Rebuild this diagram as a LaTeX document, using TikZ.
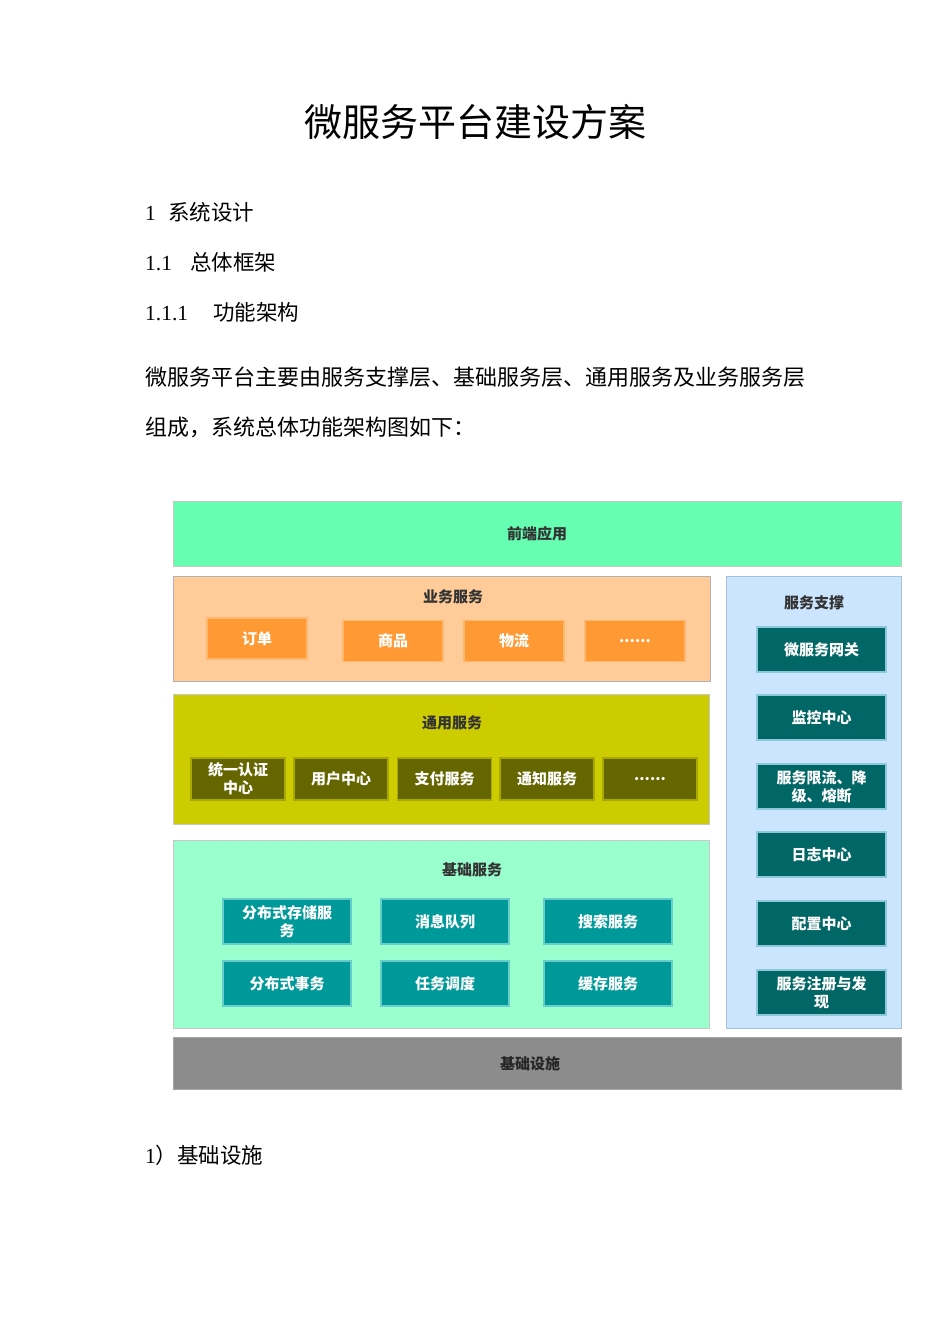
\documentclass[tikz,border=0pt]{standalone}
\usepackage{fontspec}
\setmainfont{Noto Sans CJK SC}
\newfontfamily\latinserif{Liberation Serif}
\definecolor{frontc}{HTML}{66FFB2}
\definecolor{bizc}{HTML}{FFCC99}
\definecolor{bizitem}{HTML}{FF9933}
\definecolor{bizedge}{HTML}{FFB870}
\definecolor{supc}{HTML}{CCE5FF}
\definecolor{supedge}{HTML}{A8C0D8}
\definecolor{supitem}{HTML}{006666}
\definecolor{supiedge}{HTML}{8CC8D8}
\definecolor{genc}{HTML}{CCCC00}
\definecolor{genitem}{HTML}{666600}
\definecolor{genedge}{HTML}{A8A800}
\definecolor{basec}{HTML}{99FFCC}
\definecolor{baseitem}{HTML}{009999}
\definecolor{baseedge}{HTML}{66CCCC}
\definecolor{infrac}{HTML}{8C8C8C}
\definecolor{titlec}{HTML}{333333}
\tikzset{
  layer/.style={draw=#1, line width=1pt, inner sep=0pt},
  item/.style={draw=#1, line width=1.2pt, inner sep=0pt, text=white, align=center,
    font=\bfseries\fontsize{15}{18}\selectfont},
  ltitle/.style={text=titlec, font=\bfseries\fontsize{15}{18}\selectfont, inner sep=0pt},
  doc/.style={anchor=west, inner sep=0pt, font=\fontsize{21.5}{26}\selectfont}
}
\newcommand{\numlbl}[2]{\makebox[#1][l]{\latinserif #2}}
\begin{document}
\begin{tikzpicture}[x=1pt, y=-1pt]
\useasboundingbox (0,0) rectangle (950,1344);
\fill[white] (0,0) rectangle (950,1344);
% document text
\node[inner sep=0pt, font=\fontsize{38}{44}\selectfont] (title) at (475,122) {微服务平台建设方案};
\node[doc] (h1) at (145,212) {\numlbl{23pt}{1}系统设计};
\node[doc] (h2) at (145,262) {\numlbl{45pt}{1.1}总体框架};
\node[doc] (h3) at (145,312) {\numlbl{68pt}{1.1.1}功能架构};
\node[doc, font=\fontsize{22}{26}\selectfont] (p1) at (145,377) {微服务平台主要由服务支撑层、基础服务层、通用服务及业务服务层};
\node[doc, font=\fontsize{22}{26}\selectfont] (p2) at (145,427) {组成，系统总体功能架构图如下：};
\node[doc] (h4) at (145,1155) {{\latinserif 1}）基础设施};
% layers
\node[layer=black!22, fill=frontc, minimum width=728, minimum height=65] (front) at (537,533.5) {};
\node[ltitle] (frontt) at (front.center) {前端应用};
\node[layer=black!30, fill=bizc, minimum width=537, minimum height=105] (biz) at (441.5,628.5) {};
\node[ltitle] (bizt) at (453,597) {业务服务};
\node[layer=supedge, fill=supc, minimum width=175, minimum height=452] (sup) at (813.5,802) {};
\node[ltitle] (supt) at (814,603) {服务支撑};
\node[layer=black!22, fill=genc, minimum width=536, minimum height=130] (gen) at (441,759) {};
\node[ltitle] (gent) at (452,723) {通用服务};
\node[layer=black!22, fill=basec, minimum width=536, minimum height=188] (base) at (441,934) {};
\node[ltitle] (baset) at (472,870) {基础服务};
\node[layer=black!35, fill=infrac, minimum width=728, minimum height=52] (infra) at (537,1063) {};
\node[ltitle, text=black!85] (infrat) at (530,1064) {基础设施};
% business items
\tikzset{bizbox/.style={item=bizedge, fill=bizitem, minimum width=100, minimum height=41}}
\node[bizbox] (order) at (257,638.5) {订单};
\node[bizbox] (goods) at (393,641) {商品};
\node[bizbox] (logi) at (514,641) {物流};
\node[bizbox] (bmore) at (635,641) {......};
% support items
\tikzset{supbox/.style={item=supiedge, fill=supitem, minimum width=129, minimum height=45}}
\node[supbox] (gw) at (821.5,649.5) {微服务网关};
\node[supbox] (mon) at (821.5,717.5) {监控中心};
\node[supbox] (lim) at (821.5,786.5) {服务限流、降\\级、熔断};
\node[supbox] (log) at (821.5,854.5) {日志中心};
\node[supbox] (cfg) at (821.5,923.5) {配置中心};
\node[supbox] (reg) at (821.5,992.5) {服务注册与发\\现};
% general items
\tikzset{genbox/.style={item=genedge, fill=genitem, minimum width=94, minimum height=42}}
\node[genbox] (auth) at (238,779) {统一认证\\中心};
\node[genbox] (user) at (341,779) {用户中心};
\node[genbox] (pay) at (444.5,779) {支付服务};
\node[genbox] (notify) at (547,779) {通知服务};
\node[genbox] (gmore) at (650,779) {......};
% base items
\tikzset{basebox/.style={item=baseedge, fill=baseitem, minimum width=128, minimum height=45}}
\node[basebox] (store) at (287,921.5) {分布式存储服\\务};
\node[basebox] (mq) at (445,921.5) {消息队列};
\node[basebox] (search) at (608,921.5) {搜索服务};
\node[basebox] (tx) at (287,983.5) {分布式事务};
\node[basebox] (sched) at (445,983.5) {任务调度};
\node[basebox] (cache) at (608,983.5) {缓存服务};
\end{tikzpicture}
\end{document}
